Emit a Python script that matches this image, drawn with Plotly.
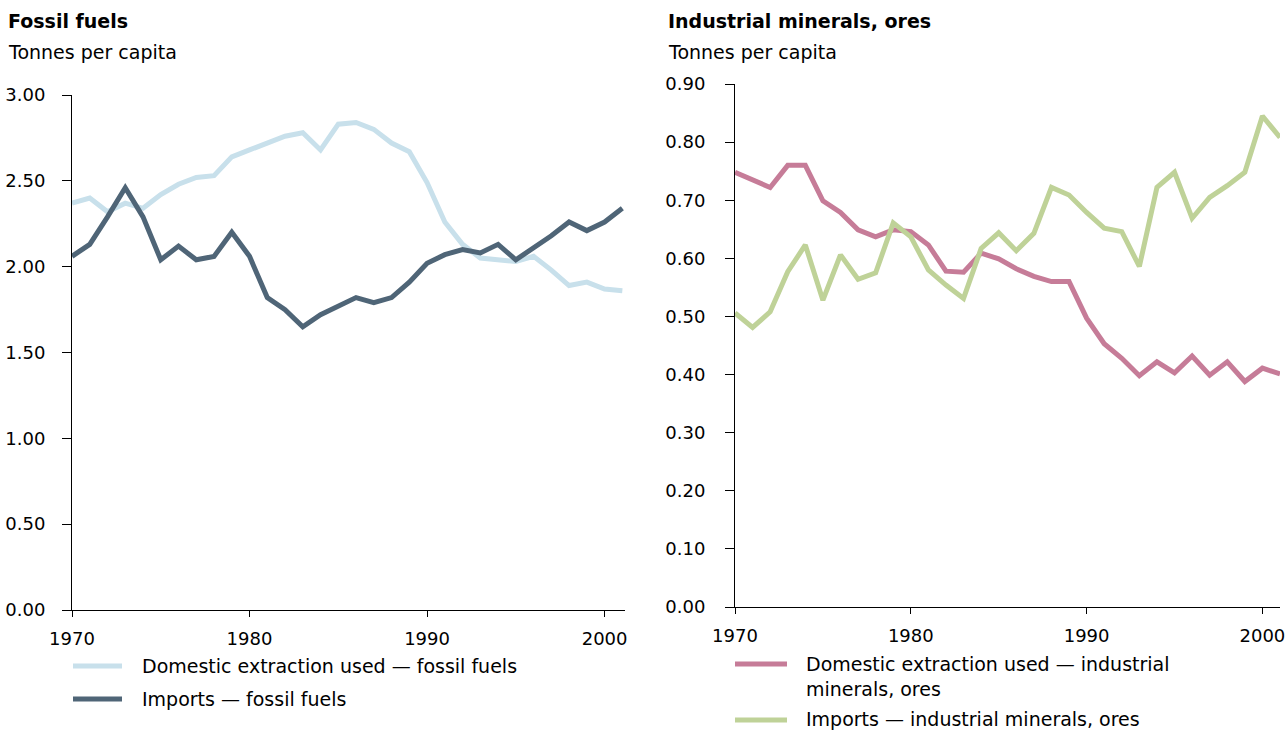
import plotly.graph_objects as go

# values, tonnes per capita
years = [1970, 1971, 1972, 1973, 1974, 1975, 1976, 1977, 1978, 1979,
         1980, 1981, 1982, 1983, 1984, 1985, 1986, 1987, 1988, 1989,
         1990, 1991, 1992, 1993, 1994, 1995, 1996, 1997, 1998, 1999,
         2000, 2001]

fossil_domestic = [2.37, 2.40, 2.32, 2.37, 2.34, 2.42, 2.48, 2.52, 2.53, 2.64,
                   2.68, 2.72, 2.76, 2.78, 2.68, 2.83, 2.84, 2.80, 2.72, 2.67,
                   2.49, 2.26, 2.13, 2.05, 2.04, 2.03, 2.06, 1.98, 1.89, 1.91,
                   1.87, 1.86]
fossil_imports = [2.06, 2.13, 2.29, 2.46, 2.29, 2.04, 2.12, 2.04, 2.06, 2.20,
                  2.06, 1.82, 1.75, 1.65, 1.72, 1.77, 1.82, 1.79, 1.82, 1.91,
                  2.02, 2.07, 2.10, 2.08, 2.13, 2.04, 2.11, 2.18, 2.26, 2.21,
                  2.26, 2.34]

minerals_domestic = [0.748, 0.736, 0.722, 0.760, 0.760, 0.699, 0.679, 0.649, 0.637, 0.649,
                     0.646, 0.623, 0.578, 0.576, 0.609, 0.599, 0.582, 0.569, 0.560, 0.560,
                     0.497, 0.453, 0.428, 0.398, 0.422, 0.403, 0.432, 0.399, 0.422, 0.388,
                     0.411, 0.401]
minerals_imports = [0.506, 0.481, 0.508, 0.577, 0.623, 0.528, 0.606, 0.564, 0.575, 0.661,
                    0.637, 0.580, 0.554, 0.531, 0.617, 0.644, 0.613, 0.643, 0.722, 0.709,
                    0.679, 0.652, 0.646, 0.586, 0.722, 0.748, 0.669, 0.705, 0.725, 0.748,
                    0.845, 0.808]

x_ticks = [1970, 1980, 1990, 2000]

C_LIGHT = '#c8e0eb'
C_DARK = '#4f6577'
C_PINK = '#c67c98'
C_GREEN = '#bfd298'

W, H = 1285, 731
FONT = 'DejaVu Sans'


def fx(p):
    return p / W


def fy(p):
    return 1 - p / H


fig = go.Figure()
fig.add_trace(go.Scatter(x=years, y=fossil_domestic, mode='lines',
                         line=dict(color=C_LIGHT, width=5), xaxis='x', yaxis='y'))
fig.add_trace(go.Scatter(x=years, y=fossil_imports, mode='lines',
                         line=dict(color=C_DARK, width=5), xaxis='x', yaxis='y'))
fig.add_trace(go.Scatter(x=years, y=minerals_domestic, mode='lines',
                         line=dict(color=C_PINK, width=5), xaxis='x2', yaxis='y2'))
fig.add_trace(go.Scatter(x=years, y=minerals_imports, mode='lines',
                         line=dict(color=C_GREEN, width=5), xaxis='x2', yaxis='y2'))

x_common = dict(
    tickvals=x_ticks, tickformat='d', ticks='outside', ticklen=6, tickcolor='black',
    showline=True, linecolor='black', linewidth=1, showgrid=False, zeroline=False,
    ticklabelstandoff=6, tickfont=dict(size=18, color='black'), automargin=False,
    ticklabeloverflow='allow',
)
y_common = dict(
    tickformat='.2f', ticks='outside', ticklen=9, tickcolor='black',
    showline=True, linecolor='black', linewidth=1, showgrid=False, zeroline=False,
    tickfont=dict(size=18, color='black'), automargin=False,
    ticklabeloverflow='allow',
)

fig.update_layout(
    xaxis=dict(domain=[fx(72), fx(625)], range=[1970, 2001.15], anchor='y', **x_common),
    yaxis=dict(domain=[fy(610), fy(95)], range=[0, 3], dtick=0.5, anchor='x',
               ticklabelstandoff=13, **y_common),
    xaxis2=dict(domain=[fx(735), fx(1280)], range=[1970, 2001], anchor='y2', **x_common),
    yaxis2=dict(domain=[fy(607), fy(84)], range=[0, 0.9], dtick=0.1, anchor='x2',
                ticklabelstandoff=16, **y_common),
)

annotations = [
    dict(text='<b>Fossil fuels</b>', x=fx(6), y=fy(21)),
    dict(text='Tonnes per capita', x=fx(6), y=fy(52)),
    dict(text='<b>Industrial minerals, ores</b>', x=fx(666), y=fy(21)),
    dict(text='Tonnes per capita', x=fx(666), y=fy(52)),
    dict(text='Domestic extraction used \u2014 fossil fuels', x=fx(140), y=fy(666)),
    dict(text='Imports \u2014 fossil fuels', x=fx(140), y=fy(699)),
    dict(text='Domestic extraction used \u2014 industrial<br>minerals, ores',
         x=fx(804), y=fy(676)),
    dict(text='Imports \u2014 industrial minerals, ores', x=fx(804), y=fy(719)),
]
for a in annotations:
    fig.add_annotation(xref='paper', yref='paper', xanchor='left', yanchor='middle',
                       align='left', showarrow=False,
                       font=dict(family=FONT, size=19, color='black'), **a)

# legend swatches
swatches = [
    (73, 122, 666, C_LIGHT),
    (73, 122, 699, C_DARK),
    (735, 787, 664, C_PINK),
    (735, 787, 720, C_GREEN),
]
for x0, x1, yy, col in swatches:
    fig.add_shape(type='line', xref='paper', yref='paper',
                  x0=fx(x0), x1=fx(x1), y0=fy(yy), y1=fy(yy),
                  line=dict(color=col, width=5))

fig.update_layout(
    width=W, height=H, autosize=False,
    margin=dict(l=0, r=0, t=0, b=0, autoexpand=False),
    showlegend=False,
    paper_bgcolor='white', plot_bgcolor='white',
    font=dict(family=FONT, size=18, color='black'),
)

# drop the default page margin so the figure sits at the window's top-left
fig.write_html('out.html', config={'displayModeBar': False},
               post_script="document.body.style.margin='0';document.body.style.overflow='hidden';")
